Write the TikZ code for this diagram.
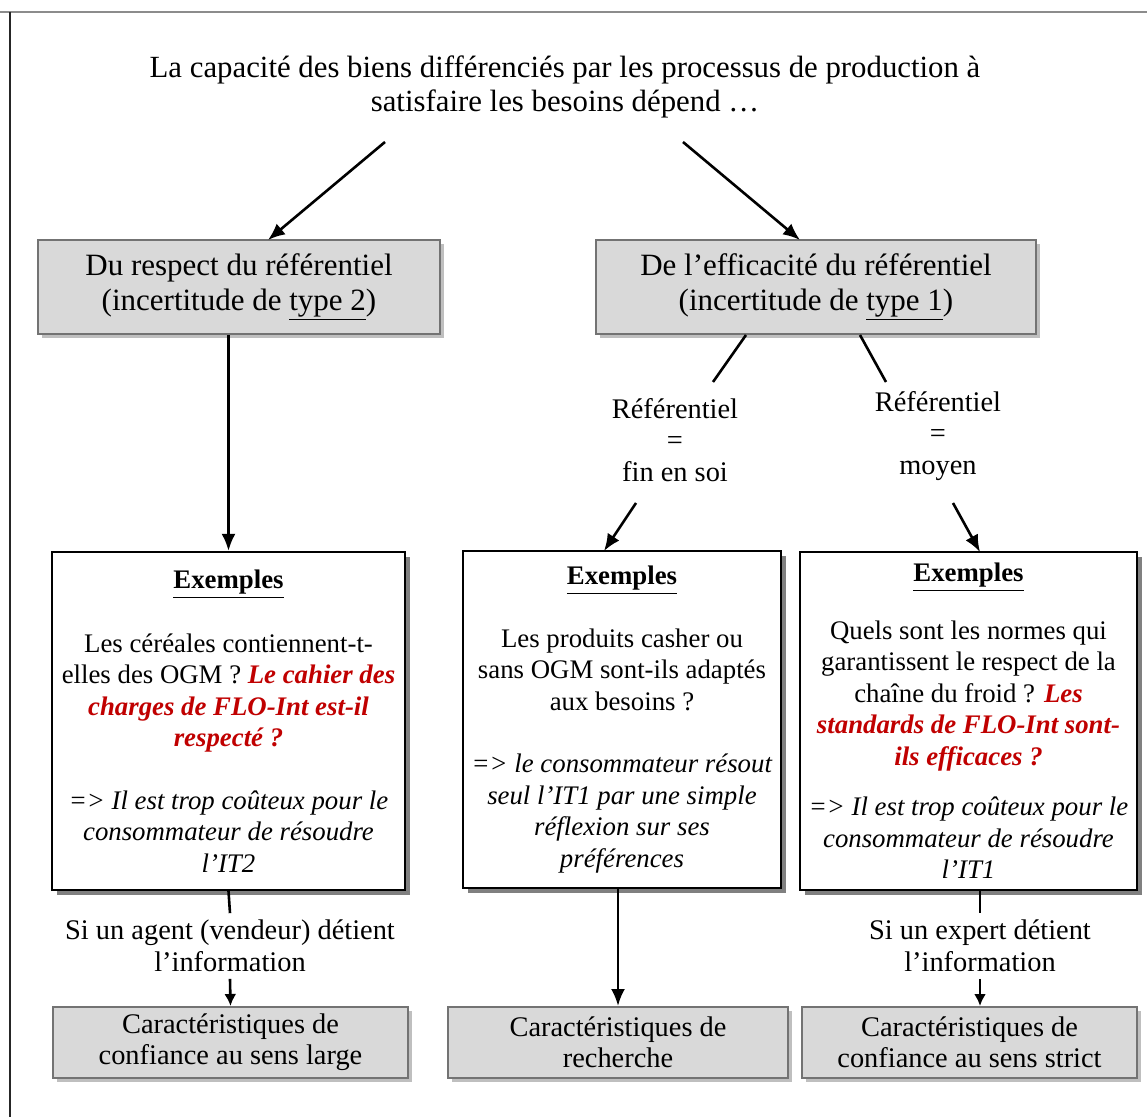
\documentclass[tikz,border=0pt]{standalone}
\usepackage{fontspec}
\setmainfont{Liberation Serif}
\usetikzlibrary{arrows.meta,shadows}

\definecolor{rougefonce}{RGB}{192,0,0}
\newcommand{\rouge}[1]{\textcolor{rougefonce}{\textbf{\textit{#1}}}}

\tikzset{
  titre/.style={align=center, font=\fontsize{15.4}{17}\selectfont},
  boite/.style={draw=black!55, line width=1pt, fill=black!15, align=center, inner sep=0pt,
    font=\fontsize{15.5}{17.5}\selectfont,
    drop shadow={shadow xshift=2.2pt, shadow yshift=-2.2pt, fill=black!25, opacity=1}},
  exemple/.style={draw=black, line width=1.1pt, fill=white, align=center, inner sep=0pt,
    font=\fontsize{13.4}{15.75}\selectfont,
    drop shadow={shadow xshift=2.5pt, shadow yshift=-2.5pt, fill=black!50, opacity=1}},
  etiquette/.style={align=center, font=\fontsize{14.2}{15.75}\selectfont},
  fleche/.style={-{Latex[length=8.5pt,width=7pt]}, line width=1.3pt},
  petitefleche/.style={-{Latex[length=6pt,width=6pt]}, line width=1.3pt},
  trait/.style={line width=1.3pt}
}

\begin{document}
\begin{tikzpicture}[x=0.5pt, y=-0.5pt]
  \useasboundingbox (0,0) rectangle (1147,1117);

  % cadre de la page
  \draw[black!45, line width=1.2pt] (0,12) -- (1147,12);
  \draw[black!85, line width=0.6pt] (10,12) -- (10,1117);

  % titre
  \node[titre] (titre) at (565,87)
    {La capacité des biens différenciés par les processus de production à\\
     satisfaire les besoins dépend …};

  % les deux incertitudes
  \node[boite, minimum width=201pt, minimum height=47pt] (respect) at (239,287)
    {Du respect du référentiel\\(incertitude de \underline{type 2})};
  \node[boite, minimum width=220pt, minimum height=47pt] (efficacite) at (816,287)
    {De l’efficacité du référentiel\\(incertitude de \underline{type 1})};

  % fin en soi / moyen
  \node[etiquette] (finsoi) at (675,440) {Référentiel\\=\\fin en soi};
  \node[etiquette] (moyen) at (938,436) {Référentiel\\=\\moyen};

  % exemples
  \node[exemple, minimum width=176.5pt, minimum height=169pt] (ex1) at (228.5,721)
    {\underline{\textbf{Exemples}}\\[16pt]
     Les céréales contiennent-t-\\
     elles des OGM ? \rouge{Le cahier des}\\
     \rouge{charges de FLO-Int est-il}\\
     \rouge{respecté ?}\\[15.5pt]
     \textit{=> Il est trop coûteux pour le}\\
     \textit{consommateur de résoudre}\\
     \textit{l’IT2}};
  \node[exemple, minimum width=159pt, minimum height=168.5pt] (ex2) at (622,719.5)
    {\underline{\textbf{Exemples}}\\[15.5pt]
     Les produits casher ou\\
     sans OGM sont-ils adaptés\\
     aux besoins ?\\[15.5pt]
     \textit{=> le consommateur résout}\\
     \textit{seul l’IT1 par une simple}\\
     \textit{réflexion sur ses}\\
     \textit{préférences}};
  \node[exemple, minimum width=168.5pt, minimum height=169pt] (ex3) at (968.5,721)
    {\underline{\textbf{Exemples}}\\[13pt]
     Quels sont les normes qui\\
     garantissent le respect de la\\
     chaîne du froid ? \rouge{Les}\\
     \rouge{standards de FLO-Int sont-}\\
     \rouge{ils efficaces ?}\\[9.5pt]
     \textit{=> Il est trop coûteux pour le}\\
     \textit{consommateur de résoudre}\\
     \textit{l’IT1}};

  % conditions
  \node[etiquette] (agent) at (230,946) {Si un agent (vendeur) détient\\l’information};
  \node[etiquette] (expert) at (980,946) {Si un expert détient\\l’information};

  % caractéristiques
  \node[boite, font=\fontsize{14.2}{15.5}\selectfont, minimum width=177.5pt, minimum height=35.5pt]
    (large) at (230.5,1042.5) {Caractéristiques de\\confiance au sens large};
  \node[boite, font=\fontsize{14.2}{15.5}\selectfont, minimum width=170pt, minimum height=35.5pt]
    (recherche) at (618,1042.5) {Caractéristiques de\\recherche};
  \node[boite, font=\fontsize{14.2}{15.5}\selectfont, minimum width=167.5pt, minimum height=35.5pt]
    (strict) at (969.5,1042.5) {Caractéristiques de\\confiance au sens strict};

  % points libres des traits obliques
  \coordinate (t1) at (385,142);
  \coordinate (t2) at (683,142);
  \coordinate (r1) at (268,240);
  \coordinate (e1) at (800,240);
  \coordinate (b1) at (746,335);
  \coordinate (b2) at (713,382);
  \coordinate (b3) at (860,335);
  \coordinate (b4) at (886,382);
  \coordinate (f1) at (636,503);
  \coordinate (f2) at (604,551);
  \coordinate (m1) at (953,503);
  \coordinate (m2) at (980,552);

  % connecteurs
  \draw[fleche] (t1) -- (r1);
  \draw[fleche] (t2) -- (e1);
  \draw[trait] (b1) -- (b2);
  \draw[trait] (b3) -- (b4);
  \draw[fleche] (respect.south -| ex1.north) -- (ex1.north);
  \draw[fleche] (f1) -- (f2);
  \draw[fleche] (m1) -- (m2);
  \draw[trait] (ex1.south) -- (agent.north);
  \draw[petitefleche] (agent.south) -- (large.north);
  \draw[fleche] (ex2.south -| recherche.north) -- (recherche.north);
  \draw[trait] (ex3.south -| expert.north) -- (expert.north);
  \draw[petitefleche] (expert.south) -- (expert.south |- strict.north);
\end{tikzpicture}
\end{document}
